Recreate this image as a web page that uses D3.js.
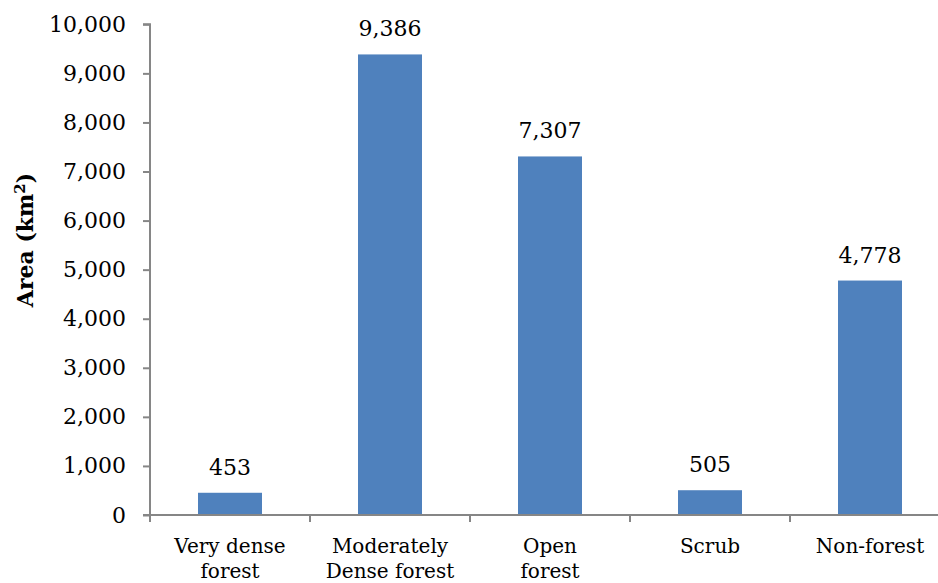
<!DOCTYPE html>
<html>
<head>
<meta charset="utf-8">
<script src="https://cdn.jsdelivr.net/npm/d3@7"></script>
<style>
  html, body { margin: 0; padding: 0; background: #fff; }
  svg { display: block; }
  text { font-family: "DejaVu Serif", "Liberation Serif", serif; fill: #000; }
</style>
</head>
<body>
<svg id="chart" width="938" height="583"></svg>
<script>
// Forest cover classes and their area in km²
const categories = [["Very dense", "forest"], ["Moderately", "Dense forest"], ["Open", "forest"], ["Scrub"], ["Non-forest"]];
const areas = [453, 9386, 7307, 505, 4778];
const yTicks = [0, 1000, 2000, 3000, 4000, 5000, 6000, 7000, 8000, 9000, 10000];

const svg = d3.select("#chart");
const plotLeft = 150, plotBottom = 515, plotTop = 24.3, plotRight = 950;
const axisColor = "#868686";
const fmt = d3.format(",");

const keys = categories.map((c, i) => i);
const x = d3.scaleBand().domain(keys).range([plotLeft, plotRight]).paddingInner(0).paddingOuter(0);
const y = d3.scaleLinear().domain([0, 10000]).range([plotBottom, plotTop]);
const barW = x.bandwidth() * 0.4;

// Bars
svg.selectAll("rect.bar").data(areas).enter().append("rect")
  .attr("class", "bar")
  .attr("x", (d, i) => x(i) + (x.bandwidth() - barW) / 2)
  .attr("y", d => y(d))
  .attr("width", barW)
  .attr("height", d => y(0) - y(d))
  .attr("fill", "#4F81BD");

// Value labels
svg.selectAll("text.val").data(areas).enter().append("text")
  .attr("class", "val")
  .attr("x", (d, i) => x(i) + x.bandwidth() / 2)
  .attr("y", d => y(d) - 18)
  .attr("text-anchor", "middle")
  .style("font-size", "22px")
  .text(d => fmt(d));

// Y axis
const yAxis = d3.axisLeft(y).tickValues(yTicks).tickFormat(fmt).tickSize(7).tickPadding(17);
const gy = svg.append("g").attr("transform", `translate(${plotLeft},0)`).call(yAxis);
gy.select(".domain").attr("stroke", axisColor).attr("stroke-width", 2).attr("d", `M-7,${plotTop}H0V${plotBottom}`);
gy.selectAll(".tick line").attr("stroke", axisColor).attr("stroke-width", 2);
gy.selectAll(".tick text").style("font-size", "22px").style("font-family", "DejaVu Serif, serif").attr("fill", "#000");

// X axis with ticks at category boundaries
const gx = svg.append("g");
gx.append("line").attr("x1", plotLeft - 7).attr("x2", plotRight).attr("y1", plotBottom).attr("y2", plotBottom)
  .attr("stroke", axisColor).attr("stroke-width", 2);
const bounds = keys.map(k => x(k)).concat([plotRight]);
gx.selectAll("line.tk").data(bounds).enter().append("line")
  .attr("class", "tk")
  .attr("x1", d => d).attr("x2", d => d)
  .attr("y1", plotBottom).attr("y2", plotBottom + 7)
  .attr("stroke", axisColor).attr("stroke-width", 2);

// Category labels (multi-line)
const lbl = svg.selectAll("text.cat").data(categories).enter().append("text")
  .attr("class", "cat")
  .attr("text-anchor", "middle")
  .style("font-size", "20px")
  .attr("transform", (d, i) => `translate(${x(i) + x.bandwidth() / 2},553)`);
lbl.selectAll("tspan").data(d => d).enter().append("tspan")
  .attr("x", 0)
  .attr("dy", (d, j) => j === 0 ? 0 : 25)
  .text(d => d);

// Y axis title
const title = svg.append("text")
  .attr("transform", "translate(33,240) rotate(-90)")
  .attr("text-anchor", "middle")
  .style("font-size", "22px")
  .style("font-weight", "bold");
title.append("tspan").text("Area (km");
title.append("tspan").attr("dy", -8).style("font-size", "15px").text("2");
title.append("tspan").attr("dy", 8).text(")");
</script>
</body>
</html>
